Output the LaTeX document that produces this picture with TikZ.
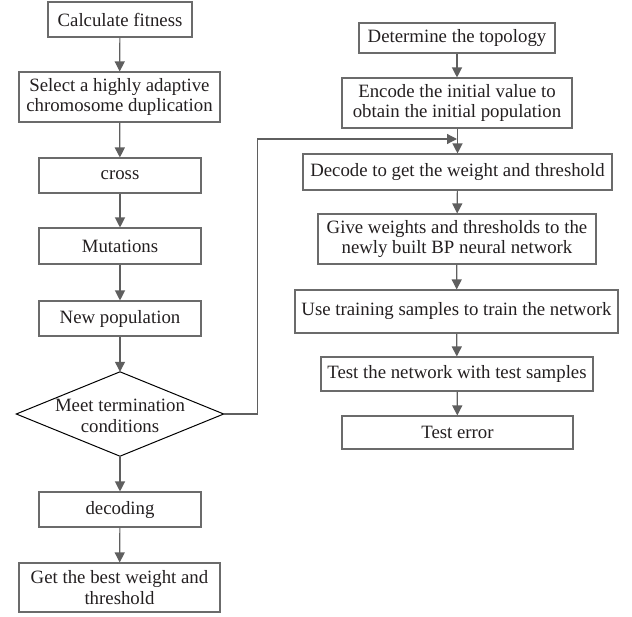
\documentclass[tikz,border=0pt]{standalone}
\usepackage{fontspec}
\setmainfont{Liberation Serif}
\usetikzlibrary{arrows.meta,calc}
\definecolor{boxc}{HTML}{6B6B6B}
\definecolor{arrc}{HTML}{5F5F5F}
\definecolor{txtc}{HTML}{231F20}
\tikzset{
  box/.style={draw=boxc, line width=1.1pt, inner sep=0pt, align=center,
    text=txtc, font=\fontsize{18.8}{20.5}\selectfont},
  lbl/.style={inner sep=0pt, align=center, text=txtc, font=\fontsize{18.8}{20.5}\selectfont},
  arr/.style={draw=arrc, line width=1.2pt, -{Triangle[length=10pt,width=10pt]}},
  lnk/.style={draw=boxc, line width=1.1pt}
}
\begin{document}
\begin{tikzpicture}[x=1pt,y=-1pt]
\useasboundingbox (0,0) rectangle (632,616);
% left column
\node[box, minimum width=144, minimum height=35] (fit) at (120,19.5) {Calculate fitness};
\node[box, minimum width=201, minimum height=50] (sel) at (119.5,97) {Select a highly adaptive\\chromosome duplication};
\node[box, minimum width=162, minimum height=35] (cross) at (120,175.5) {cross};
\node[box, minimum width=162, minimum height=36] (mut) at (120,246) {Mutations};
\node[box, minimum width=162, minimum height=35] (newp) at (120,318.5) {New population};
\node[minimum width=207, minimum height=84, inner sep=0pt] (dia) at (120,414) {};
\draw[draw=black, line width=1.0pt] (dia.north) -- (dia.east) -- (dia.south) -- (dia.west) -- cycle;
\node[lbl] (dialbl) at (120,416) {Meet termination\\conditions};
\node[box, minimum width=162, minimum height=35] (decg) at (120,509.5) {decoding};
\node[box, minimum width=201, minimum height=49] (best) at (119.5,587.5) {Get the best weight and\\threshold};
% right column
\node[box, minimum width=196, minimum height=30] (topo) at (457,38) {Determine the topology};
\node[box, minimum width=230, minimum height=50] (enc) at (457,103) {Encode the initial value to\\obtain the initial population};
\node[box, minimum width=309, minimum height=36] (dec) at (457.5,172) {Decode to get the weight and threshold};
\node[box, minimum width=278, minimum height=50] (give) at (457,239) {Give weights and thresholds to the\\newly built BP neural network};
\node[box, minimum width=323, minimum height=43] (train) at (456.5,311.5) {Use training samples to train the network};
\node[box, minimum width=272, minimum height=34] (test) at (457,374) {Test the network with test samples};
\node[box, minimum width=231, minimum height=33] (err) at (457.5,432.5) {Test error};
% arrows left
\draw[arr] (fit) -- (sel);
\draw[arr] (sel) -- (cross);
\draw[arr] (cross) -- (mut);
\draw[arr] (mut) -- (newp);
\draw[arr] (newp) -- (dia.north);
\draw[arr] (dia.south) -- (decg);
\draw[arr] (decg) -- (best);
% arrows right
\draw[arr] (topo) -- (enc);
\draw[arr] (enc.south -| dec.north) -- (dec.north);
\draw[arr] (dec) -- (give);
\draw[arr] (give) -- (train);
\draw[arr] (train) -- (test);
\draw[arr] (test) -- (err);
% loop
\coordinate (j) at (457,139);
\draw[arr] (dia.east) -- ++(34,0) |- (j);
\end{tikzpicture}
\end{document}
